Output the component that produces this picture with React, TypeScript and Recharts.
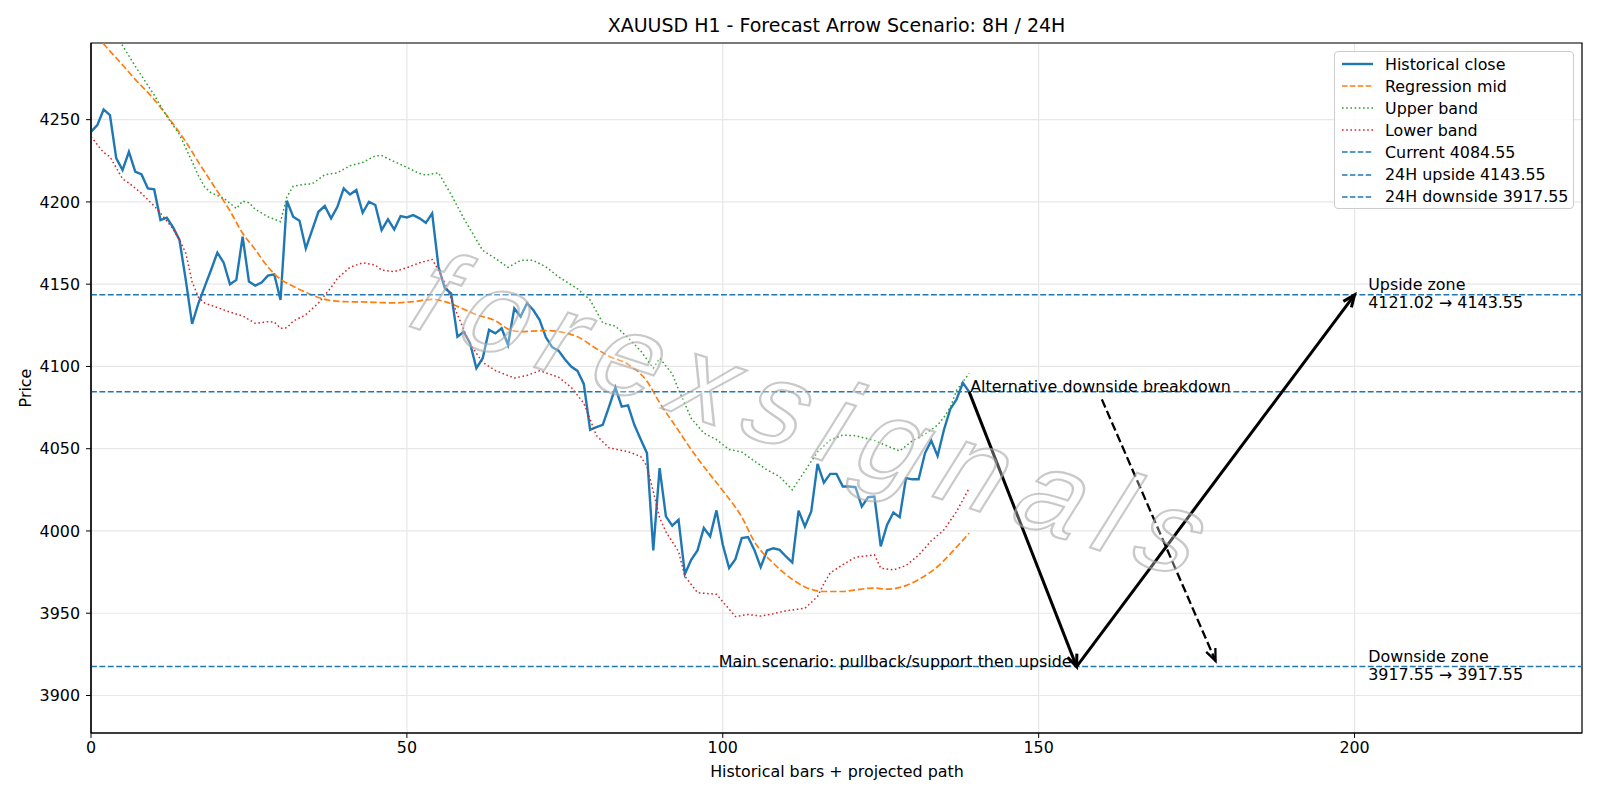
import {
  LineChart, Line, XAxis, YAxis, CartesianGrid, Legend,
  ReferenceLine, ReferenceDot, ReferenceArea,
} from "recharts"

// historical close, one value per H1 bar (index = bar)
const closeVals = [
  4242.6, 4246.7, 4256.2, 4252.8, 4226.5, 4219.4, 4230.5, 4218.4, 4216.7, 4208.2,
  4207.6, 4189.0, 4190.4, 4184.5, 4176.9, 4152.6, 4125.9, 4138.4, 4148.5, 4158.6,
  4169.2, 4163.1, 4149.9, 4152.6, 4178.9, 4151.6, 4149.1, 4151.0, 4155.2, 4156.0,
  4140.4, 4200.7, 4191.0, 4188.6, 4171.7, 4182.9, 4194.0, 4197.5, 4190.0, 4197.0,
  4208.2, 4204.5, 4207.2, 4193.4, 4200.1, 4198.1, 4182.9, 4189.4, 4183.3, 4191.4,
  4190.6, 4192.0, 4190.0, 4187.3, 4193.0, 4160.6, 4147.5, 4144.4, 4118.1, 4121.1,
  4114.1, 4098.9, 4105.0, 4122.2, 4120.1, 4123.2, 4113.1, 4135.3, 4130.3, 4138.4,
  4134.3, 4128.3, 4117.7, 4111.7, 4109.6, 4104.4, 4099.9, 4097.3, 4089.4, 4061.5,
  4063.1, 4064.5, 4075.6, 4087.2, 4075.6, 4076.4, 4064.5, 4055.8, 4047.3, 3988.2,
  4038.2, 4008.9, 4003.2, 4006.8, 3973.8, 3982.5, 3988.2, 4001.8, 3996.7, 4012.5,
  3991.6, 3977.5, 3982.9, 3995.7, 3996.3, 3988.5, 3978.0, 3988.1, 3989.5, 3988.5,
  3984.5, 3980.8, 4012.4, 4002.7, 4011.8, 4040.8, 4029.4, 4034.7, 4034.7, 4027.0,
  4027.0, 4026.6, 4014.8, 4020.5, 4020.9, 3990.6, 4003.7, 4011.2, 4008.4, 4032.1,
  4031.4, 4031.4, 4047.2, 4054.9, 4045.6, 4061.4, 4074.0, 4080.0, 4090.1, 4084.55,
]

// regression mid (read at selected bars)
const midBars = [0, 2, 5, 7, 10, 12, 15, 17, 20, 22, 24, 26, 28, 30, 32, 35, 38, 40, 43, 46, 48, 51, 54, 56, 59, 61, 64, 66, 68, 72, 75, 77, 80, 82, 85, 88, 90, 93, 95, 98, 100, 103, 105, 108, 111, 113, 116, 119, 121, 124, 126, 129, 131, 134, 137, 139]
const midVals = [4305, 4296, 4283.2, 4274.5, 4262.2, 4252.5, 4236.6, 4224.2, 4206.5, 4194.5, 4181, 4171, 4160.5, 4153, 4148.8, 4143.4, 4140, 4139.4, 4139.2, 4138.8, 4138.6, 4139.4, 4140.8, 4139.4, 4134.8, 4131.5, 4127.8, 4122.8, 4121.2, 4121.8, 4120.5, 4118, 4110.8, 4106.2, 4101.3, 4091, 4078, 4061, 4049.5, 4034.2, 4024.5, 4008.5, 3993.5, 3980.4, 3970.6, 3966, 3963.2, 3963.2, 3964.2, 3965.3, 3964.6, 3966.8, 3970.5, 3978.4, 3990.2, 3998.7]

// upper band
const upperBars = [0, 3, 5, 7, 10, 12, 14, 16, 17, 18, 19, 21, 23, 24, 25, 26, 28, 30, 31, 32, 34, 35, 37, 39, 41, 43, 45, 46, 48, 50, 52, 53, 55, 57, 59, 62, 64, 66, 68, 70, 72, 74, 77, 79, 81, 83, 85, 87, 89, 90, 92, 93, 95, 97, 99, 101, 103, 105, 107, 109, 111, 113, 115, 117, 119, 121, 124, 126, 128, 130, 132, 134, 135, 136, 137, 139]
const upperVals = [4326, 4307, 4295, 4282.5, 4265, 4252, 4241, 4224.5, 4216, 4209, 4205.5, 4202.3, 4196, 4200.5, 4199.5, 4195.5, 4191, 4188, 4203, 4209.5, 4210.8, 4211, 4216.5, 4217.7, 4222, 4224, 4228, 4228.2, 4224.5, 4221, 4217.3, 4216.3, 4217.7, 4204.5, 4190, 4170.5, 4165.7, 4160.2, 4164.5, 4164.5, 4160.5, 4154.5, 4147.2, 4140.4, 4126.5, 4124.5, 4117.5, 4109.5, 4098.9, 4105, 4095.5, 4086, 4068.5, 4059.5, 4055.5, 4049.5, 4048, 4042.5, 4037.1, 4033.1, 4025, 4036.5, 4048, 4055.3, 4058.3, 4057.9, 4055, 4051.7, 4048.6, 4054.8, 4058.8, 4064.4, 4069, 4075, 4085.5, 4095.8]

// lower band
const lowerBars = [0, 2, 3, 5, 6, 8, 10, 11, 13, 14, 15, 16, 17, 18, 20, 22, 24, 26, 28, 29, 30, 31, 32, 34, 35, 36, 38, 39, 41, 43, 45, 46, 48, 50, 52, 54, 55, 56, 58, 60, 62, 64, 67, 69, 71, 74, 76, 78, 80, 82, 85, 87, 88, 89, 90, 91, 93, 94, 96, 99, 100, 102, 104, 106, 108, 110, 113, 115, 116, 117, 119, 121, 124, 125, 127, 129, 131, 133, 135, 137, 139]
const lowerVals = [4239.6, 4230, 4227.5, 4214, 4211.5, 4205.2, 4197.5, 4193.3, 4183.5, 4177, 4169, 4151.5, 4142, 4138.5, 4135.8, 4133, 4130.7, 4126.2, 4127.2, 4127, 4123.2, 4123.5, 4127.5, 4131.5, 4135, 4138.5, 4148, 4153.5, 4160.3, 4163, 4161.6, 4158.5, 4157.6, 4160, 4163, 4165, 4158.6, 4151, 4131.5, 4113.5, 4102.5, 4097.5, 4093, 4094.5, 4097.4, 4093.5, 4087.3, 4077.7, 4058, 4050.5, 4048.2, 4045.3, 4039.2, 4024, 4008, 3999.5, 3987.5, 3972.5, 3962.5, 3961.5, 3957, 3948, 3949.2, 3948.3, 3949.7, 3951.5, 3953, 3960.2, 3968, 3974.5, 3979.5, 3984, 3985.5, 3977.4, 3976.3, 3979, 3985.3, 3994, 4000.7, 4011.8, 4026]

// horizontal levels
const levelNames = ["Current", "24H upside", "24H downside"]
const levelVals = [4084.55, 4143.55, 3917.55]

// projected arrows: [fromBar, fromPrice, toBar, toPrice]
const mainPath = [
  [139, 4084.55, 156, 3917.55],
  [156, 3917.55, 200, 4143.55],
]
const altPath = [160, 4080, 178, 3921]

const xTicks = [0, 50, 100, 150, 200]
const yTicks = [3900, 3950, 4000, 4050, 4100, 4150, 4200, 4250]
const xDomain = [0, 236]
const yDomain = [3877.2, 4296.6]

const FONT = "'DejaVu Sans', sans-serif"
const FS = 15.9
const BLUE = "#1f77b4"

const closeData = closeVals.map((v, i) => ({ bar: i, close: v }))
const midData = midBars.map((b, i) => ({ bar: b, mid: midVals[i] }))
const upperData = upperBars.map((b, i) => ({ bar: b, upper: upperVals[i] }))
const lowerData = lowerBars.map((b, i) => ({ bar: b, lower: lowerVals[i] }))

const legendRows = [
  { label: "Historical close", color: BLUE, dash: undefined, w: 2.4 },
  { label: "Regression mid", color: "#ff7f0e", dash: "5.5 2.4", w: 1.6 },
  { label: "Upper band", color: "#2ca02c", dash: "1.6 2.6", w: 1.6 },
  { label: "Lower band", color: "#d62728", dash: "1.6 2.6", w: 1.6 },
  ...levelNames.map((n, i) => ({ label: `${n} ${levelVals[i].toFixed(2)}`, color: BLUE, dash: "5.5 2.4", w: 1.6 })),
]

function Arrow(props: any) {
  const { x1, y1, x2, y2, w, dash } = props
  const ang = Math.atan2(y2 - y1, x2 - x1)
  const hl = 12
  const hw = 5
  const bx = x2 - hl * Math.cos(ang)
  const by = y2 - hl * Math.sin(ang)
  const px = -Math.sin(ang) * hw
  const py = Math.cos(ang) * hw
  return (
    <g>
      <line x1={x1} y1={y1} x2={x2} y2={y2} stroke="#000" strokeWidth={w} strokeDasharray={dash} />
      <polyline
        points={`${bx + px},${by + py} ${x2},${y2} ${bx - px},${by - py}`}
        fill="none" stroke="#000" strokeWidth={w} strokeLinejoin="miter"
      />
    </g>
  )
}

function ChartLegend() {
  return (
    <div style={{
      width: 240, height: 158, boxSizing: "border-box",
      border: "1px solid #cccccc", borderRadius: 4,
      background: "rgba(255,255,255,0.85)",
      paddingTop: 1, fontFamily: FONT, fontSize: FS, color: "#000",
    }}>
      {legendRows.map((r) => (
        <div key={r.label} style={{ height: 22.1, display: "flex", alignItems: "center", whiteSpace: "nowrap" }}>
          <svg width={50} height={10} style={{ flex: "none" }}>
            <line x1={7} y1={5} x2={38} y2={5} stroke={r.color} strokeWidth={r.w} strokeDasharray={r.dash} />
          </svg>
          <span>{r.label}</span>
        </div>
      ))}
    </div>
  )
}

export default function App() {
  return (
    <div style={{ position: "absolute", left: 0, top: 0, width: 1600, height: 800, background: "#fff" }}>
      <div style={{
        position: "absolute", left: 91, top: 14, width: 1491, textAlign: "center",
        fontFamily: FONT, fontSize: 19, lineHeight: "23px", color: "#000",
      }}>
        XAUUSD H1 - Forecast Arrow Scenario: 8H / 24H
      </div>
      <LineChart width={1600} height={800} margin={{ top: 43, right: 18, bottom: 17, left: 21 }}>
        <CartesianGrid stroke="#e7e7e7" strokeWidth={1.2} />
        <XAxis
          type="number" dataKey="bar" domain={xDomain} ticks={xTicks} allowDataOverflow
          height={50} tickSize={5} tickMargin={4}
          tick={{ fontFamily: FONT, fontSize: FS, fill: "#000" }}
          stroke="#000" axisLine={{ stroke: "#000", strokeWidth: 1.2 }}
          label={{
            content: () => (
              <text x={837} y={777} textAnchor="middle" fontFamily={FONT} fontSize={FS} fill="#000">
                Historical bars + projected path
              </text>
            ),
          }}
        />
        <YAxis
          type="number" domain={yDomain} ticks={yTicks} allowDataOverflow
          width={70} tickSize={5} tickMargin={6}
          tick={{ fontFamily: FONT, fontSize: FS, fill: "#000" }}
          stroke="#000" axisLine={{ stroke: "#000", strokeWidth: 1.2 }}
          label={{
            content: () => (
              <text x={25} y={388} transform="rotate(-90 25 388)" textAnchor="middle"
                dominantBaseline="central" fontFamily={FONT} fontSize={FS} fill="#000">
                Price
              </text>
            ),
          }}
        />

        <Line data={closeData} dataKey="close" type="linear" stroke={BLUE} strokeWidth={2.4}
          dot={false} isAnimationActive={false} />
        <Line data={midData} dataKey="mid" type="monotone" stroke="#ff7f0e" strokeWidth={1.7}
          strokeDasharray="6.5 2.8" dot={false} isAnimationActive={false} />
        <Line data={upperData} dataKey="upper" type="linear" stroke="#2ca02c" strokeWidth={1.5}
          strokeDasharray="1.6 2.6" dot={false} isAnimationActive={false} />
        <Line data={lowerData} dataKey="lower" type="linear" stroke="#d62728" strokeWidth={1.5}
          strokeDasharray="1.6 2.6" dot={false} isAnimationActive={false} />

        {levelVals.map((v) => (
          <ReferenceLine key={v} y={v} stroke={BLUE} strokeWidth={1.5} strokeDasharray="5.9 2.5" />
        ))}

        {mainPath.map((p, i) => (
          <ReferenceLine key={`m${i}`}
            segment={[{ x: p[0], y: p[1] }, { x: p[2], y: p[3] }]}
            shape={(sp: any) => <Arrow {...sp} w={3} />}
          />
        ))}
        <ReferenceLine
          segment={[{ x: altPath[0], y: altPath[1] }, { x: altPath[2], y: altPath[3] }]}
          shape={(sp: any) => <Arrow {...sp} w={2.3} dash="8.8 3.8" />}
        />

        <ReferenceDot x={139} y={levelVals[0]} r={0} shape={(p: any) => (
          <text x={p.cx + 1} y={p.cy} fontFamily={FONT} fontSize={FS} fill="#000">
            Alternative downside breakdown
          </text>
        )} />
        <ReferenceDot x={156} y={levelVals[2]} r={0} shape={(p: any) => (
          <text x={p.cx - 5} y={p.cy} textAnchor="end" fontFamily={FONT} fontSize={FS} fill="#000">
            Main scenario: pullback/support then upside
          </text>
        )} />
        <ReferenceDot x={202} y={levelVals[1]} r={0} shape={(p: any) => (
          <text x={p.cx + 1} y={p.cy - 5} fontFamily={FONT} fontSize={FS} fill="#000">
            <tspan x={p.cx + 1}>Upside zone</tspan>
            <tspan x={p.cx + 1} dy={18.5}>4121.02 → 4143.55</tspan>
          </text>
        )} />
        <ReferenceDot x={202} y={levelVals[2]} r={0} shape={(p: any) => (
          <text x={p.cx + 1} y={p.cy - 5} fontFamily={FONT} fontSize={FS} fill="#000">
            <tspan x={p.cx + 1}>Downside zone</tspan>
            <tspan x={p.cx + 1} dy={18.5}>3917.55 → 3917.55</tspan>
          </text>
        )} />

        <ReferenceArea x1={xDomain[0]} x2={xDomain[1]} y1={yDomain[0]} y2={yDomain[1]}
          fill="none" stroke="#000" strokeWidth={1.2} />

        <Legend
          layout="vertical" align="center" verticalAlign="middle"
          wrapperStyle={{ left: 1334, top: 51, width: 240, height: 158 }}
          content={() => <ChartLegend />}
        />
      </LineChart>
      {/* embossed watermark over the plot */}
      <svg width={1600} height={800} style={{ position: "absolute", left: 0, top: 0, pointerEvents: "none" }}>
        <g transform="translate(790 450) rotate(18) skewX(-14)">
          <text
            x={0} y={0} textAnchor="middle"
            fontFamily="'Liberation Sans', sans-serif" fontSize={118}
            textLength={820} lengthAdjust="spacing"
            fill="rgba(255,255,255,0.3)" stroke="rgba(165,165,165,0.6)" strokeWidth={2.2}
          >
            forexsignals
          </text>
        </g>
      </svg>
    </div>
  )
}
